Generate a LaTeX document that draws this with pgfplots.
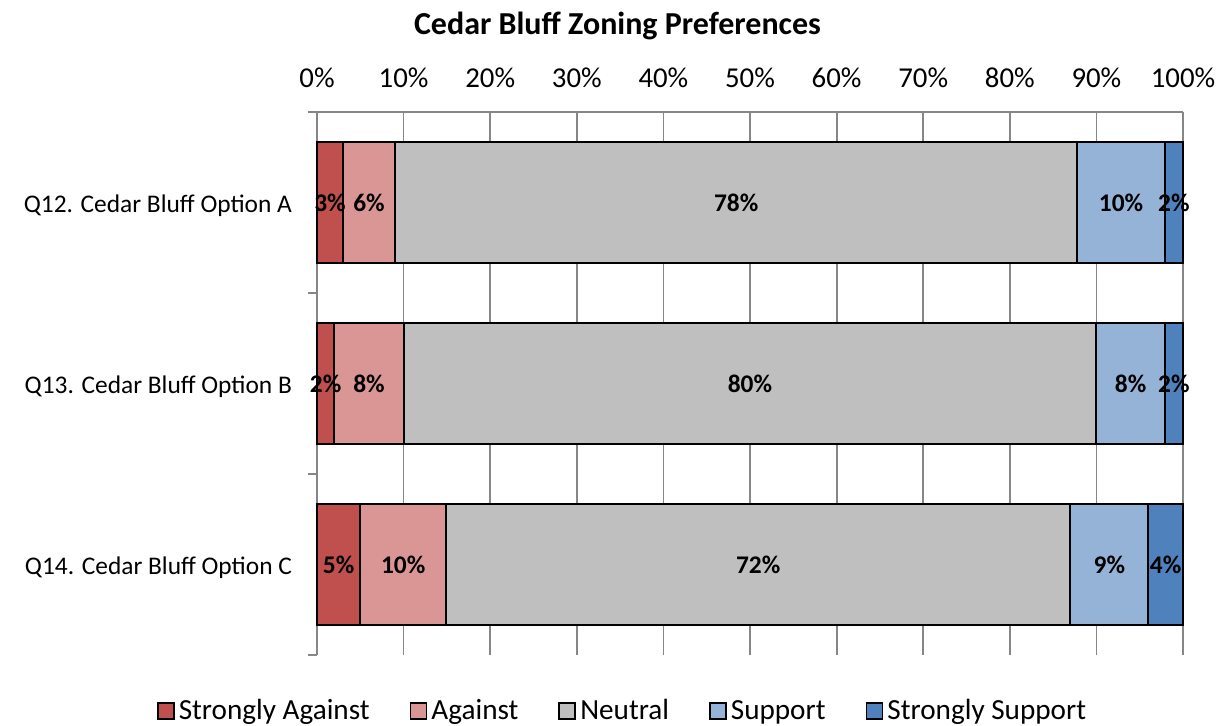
\documentclass[border=0pt]{standalone}
\usepackage{pgfplots}
\pgfplotsset{compat=1.18}
\usepackage{fontspec}
\setmainfont{Carlito}
\definecolor{cSA}{HTML}{C0504D}
\definecolor{cA}{HTML}{DA9694}
\definecolor{cN}{HTML}{BFBFBF}
\definecolor{cS}{HTML}{95B3D7}
\definecolor{cSS}{HTML}{4F81BD}
\definecolor{cGrid}{HTML}{868686}
\begin{document}
\begin{tikzpicture}
\begin{axis}[
  scale only axis, width=433pt, height=271.5pt,
  xbar stacked, bar width=60.5pt,
  xmin=0, xmax=100, ymin=0.5, ymax=3.5,
  axis x line*=top, axis y line*=left,
  axis line style={-, draw=cGrid, line width=0.9pt},
  xtick={0,10,...,100},
  xticklabel={\pgfmathprintnumber{\tick}\%},
  x tick style={draw=none},
  xticklabel style={font=\fontsize{14.4}{17}\selectfont, yshift=4pt},
  xmajorgrids, major grid style={draw=cGrid, line width=0.9pt},
  ytick={0.5,1.5,2.5,3.5}, yticklabels={},
  y tick style={draw=cGrid, line width=0.9pt},
  tick align=outside, major tick length=4.5pt,
  extra y ticks={1,2,3},
  extra y tick labels={Q14. Cedar Bluff Option C, Q13. Cedar Bluff Option B, Q12. Cedar Bluff Option A},
  extra y tick style={major tick length=0pt, grid=none, yticklabel style={xshift=-9pt, yshift=-1.5pt, font=\fontsize{12.7}{15}\selectfont}},
  /pgf/number format/assume math mode=true,
  point meta=explicit symbolic,
  nodes near coords={\pgfplotspointmeta\%},
  nodes near coords align={center},
  every node near coord/.append style={font=\fontsize{12.7}{15}\selectfont\bfseries, text=black},
  every axis plot/.append style={draw=black, line width=1pt},
  legend columns=5,
  legend style={at={(0.354,-0.1086)}, anchor=center, draw=none, font=\fontsize{14.6}{17}\selectfont, column sep=0pt, nodes={text height=1.6ex, text depth=0.45ex}, /tikz/every even column/.append style={column sep=18pt}},
  legend image code/.code={\draw[#1, draw=black, line width=0.9pt] (0pt,-2.5pt) rectangle (8pt,5.5pt);},
  clip=false,
]
\addplot[fill=cSA] coordinates {(5.0,1) [5] (2.0,2) [2] (3.0,3) [3]};
\addplot[fill=cA] coordinates {(9.9,1) [10] (8.0,2) [8] (6.0,3) [6]};
\addplot[fill=cN] coordinates {(72.1,1) [72] (80.0,2) [80] (78.8,3) [78]};
\addplot[fill=cS] coordinates {(9.0,1) [9] (7.9,2) [8] (10.1,3) [10]};
\addplot[fill=cSS] coordinates {(4.0,1) [4] (2.1,2) [2] (2.1,3) [2]};
\legend{Strongly Against, Against, Neutral, Support, Strongly Support}
\end{axis}
\node[font=\fontsize{16}{19}\selectfont\bfseries] at (150.25pt,314.5pt) {Cedar Bluff Zoning Preferences};
\pgfresetboundingbox
\path[use as bounding box] (-158.5pt,-35pt) rectangle (451.5pt,327.5pt);
\end{tikzpicture}
\end{document}
